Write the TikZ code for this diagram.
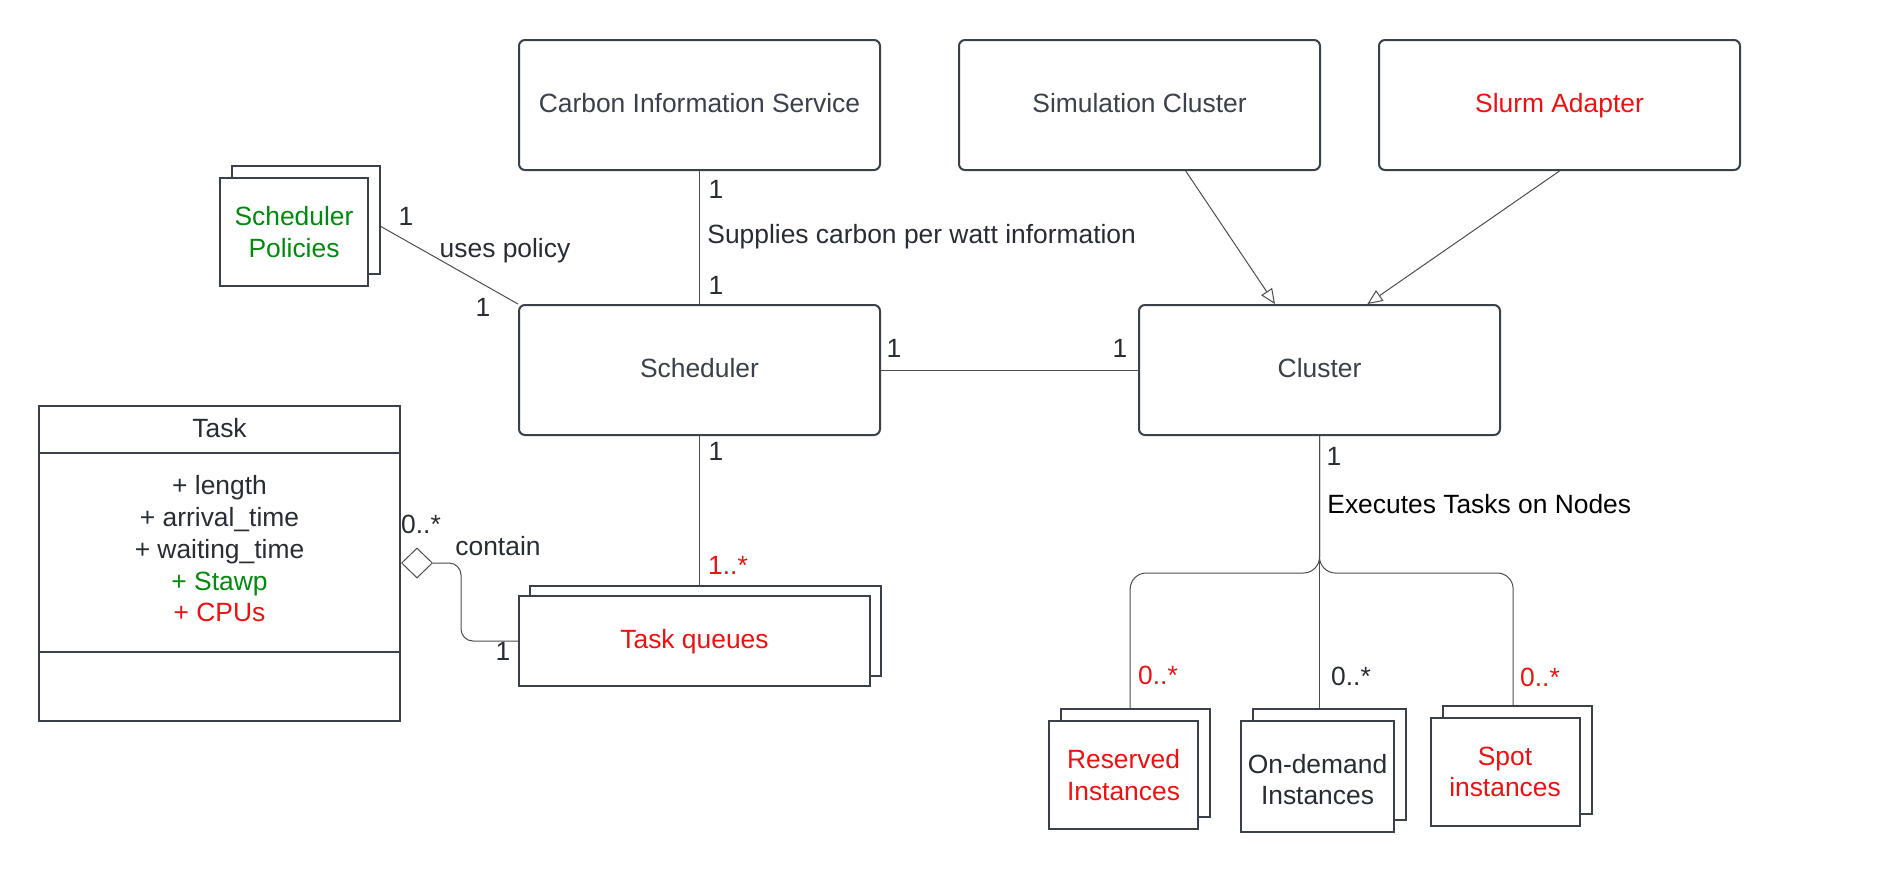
\documentclass[tikz,border=0pt]{standalone}
\usepackage{fontspec}
\setmainfont{Liberation Sans}
\usetikzlibrary{arrows.meta,shapes.geometric}
\definecolor{boxline}{HTML}{3A414A}
\definecolor{labeltext}{HTML}{282C33}
\definecolor{wire}{HTML}{4D4D4D}
\definecolor{umlred}{HTML}{EE1111}
\definecolor{umlgreen}{HTML}{008A0E}
\begin{document}
\begin{tikzpicture}[x=0.5pt,y=-0.5pt,
  every node/.style={font=\fontsize{13.2}{15.6}\selectfont,text=labeltext,inner sep=0pt},
  classbox/.style={draw=boxline,line width=1pt,rounded corners=3pt,fill=white,
    minimum width=180.5pt,minimum height=65pt,text=boxline,text depth=0.2em},
  stackbox/.style={draw=boxline,line width=1pt,fill=white,align=center},
  compart/.style={draw=boxline,line width=1pt,minimum width=180.5pt,align=center},
  assoc/.style={draw=wire,line width=0.5pt},
  inherit/.style={assoc,-{Triangle[open,length=7.5pt,width=6.5pt]}}]
  \useasboundingbox (0,0) rectangle (1880,884);
  % top row and the two main classes
  \node [classbox] (carbon) at (699.5,105) {Carbon Information Service};
  \node [classbox] (sim) at (1139.5,105) {Simulation Cluster};
  \node [classbox,text=umlred] (slurm) at (1559.5,105) {Slurm Adapter};
  \node [classbox] (sched) at (699.5,370) {Scheduler};
  \node [classbox] (cluster) at (1319.5,370) {Cluster};
  % stacked boxes
  \node [stackbox,minimum width=74pt,minimum height=54pt] (polb) at (306,220) {};
  \node [stackbox,minimum width=74pt,minimum height=54pt,text=umlgreen] (pol) at (294,232) {Scheduler\\Policies};
  \node [stackbox,minimum width=175.5pt,minimum height=45pt] (tqb) at (705,631) {};
  \node [stackbox,minimum width=175.5pt,minimum height=45pt,text=umlred,text height=1em] (tq) at (694.5,641) {Task queues};
  \node [stackbox,minimum width=74.5pt,minimum height=54pt] (resb) at (1135,763) {};
  \node [stackbox,minimum width=74.5pt,minimum height=54pt,text=umlred] (res) at (1123.5,775) {Reserved\\Instances};
  \node [stackbox,minimum width=76.5pt,minimum height=55.5pt] (odb) at (1329.5,764.5) {};
  \node [stackbox,minimum width=76.5pt,minimum height=55.5pt] (od) at (1317.5,776.5) {\rule{0pt}{12.5pt}On-demand\\Instances};
  \node [stackbox,minimum width=74.5pt,minimum height=54pt] (spotb) at (1517,760) {};
  \node [stackbox,minimum width=74.5pt,minimum height=54pt,text=umlred] (spot) at (1505,772) {Spot\\instances};
  % Task class
  \node [compart,minimum height=23.5pt,text depth=0.2em] (taskname) at (219.5,429.5) {Task};
  \node [compart,minimum height=99.5pt] (taskattr) at (219.5,552.5) {};
  \node [compart,minimum height=34.5pt] (taskops) at (219.5,686.5) {};
  \node [align=center,font=\fontsize{13.2}{15.9}\selectfont] (attrs) at (taskattr.center) [yshift=1.8pt]
    {+ length\\+ arrival\_time\\+ waiting\_time\\\textcolor{umlgreen}{+ Stawp}\\\textcolor{umlred}{+ CPUs}};
  \node [draw=wire,line width=0.5pt,diamond,minimum width=15.5pt,minimum height=15pt,fill=white] (agg) at (417,563) {};
  % connectors
  \draw [assoc] (polb.-5) -- (sched.north west);
  \draw [assoc] (carbon.south) -- (sched.north);
  \draw [assoc] (sched.east) -- (cluster.west);
  \draw [assoc] (sched.south) -- (sched.south |- tqb.north);
  \draw [assoc,rounded corners=6pt] (agg.east) -- ++(28,0) |- (tq.west);
  \draw [inherit] (sim.-55) -- (cluster.124);
  \draw [inherit] (slurm.south) -- (cluster.54);
  \draw [assoc,rounded corners=8pt] (cluster.south) -- ++(0,137) -| (resb.95);
  \draw [assoc] (cluster.south) -- (cluster.south |- odb.north);
  \draw [assoc,rounded corners=8pt] (cluster.south) -- ++(0,137) -| (spotb.94);
  % multiplicities and roles
  \node (m1) at (716,189) {1};
  \node (m2) at (716,285) {1};
  \node [anchor=west] (supplies) at (707,237) {Supplies carbon per watt information};
  \node (m3) at (406,216) {1};
  \node (uses) at (505,251) {uses policy};
  \node (m4) at (483,307) {1};
  \node (m5) at (894,348) {1};
  \node (m6) at (1120,348) {1};
  \node (m7) at (716,451) {1};
  \node [text=umlred] (m8) at (728,565) {1..*};
  \node (m9) at (421,524) {0..*};
  \node (contain) at (498,546) {contain};
  \node (m10) at (503,651) {1};
  \node (m11) at (1334,456) {1};
  \node [anchor=west,text=black] (executes) at (1327,504) {Executes Tasks on Nodes};
  \node [text=umlred] (m12) at (1158,675) {0..*};
  \node (m13) at (1351,676) {0..*};
  \node [text=umlred] (m14) at (1540,677) {0..*};
\end{tikzpicture}
\end{document}
